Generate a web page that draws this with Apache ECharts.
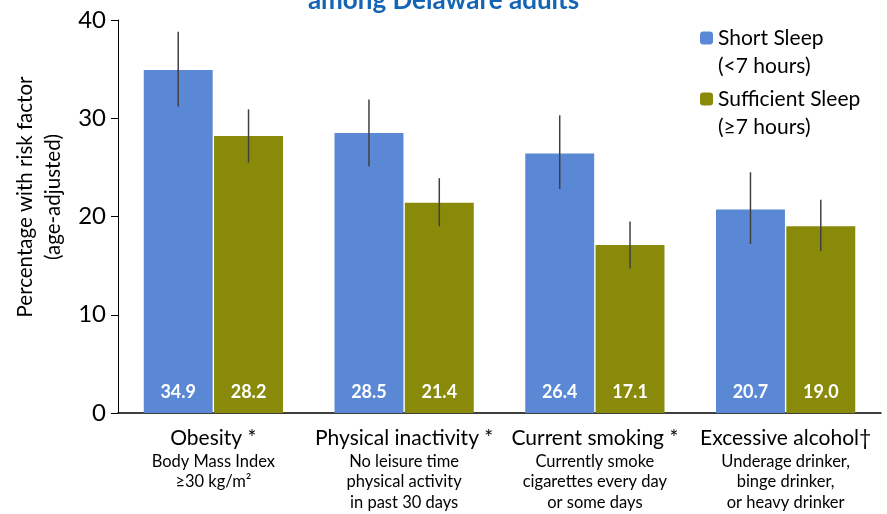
<!DOCTYPE html>
<html>
<head>
<meta charset="utf-8">
<script src="https://cdn.jsdelivr.net/npm/echarts@6/dist/echarts.min.js"></script>
<style>html,body{margin:0;padding:0;background:#fff}#c{width:887px;height:514px}</style>
</head>
<body>
<div id="c"></div>
<script>
var categories = ['Obesity *', 'Physical inactivity *', 'Current smoking *', 'Excessive alcohol\u2020'];
var subLabels = [
  ['Body Mass Index', '\u226530 kg/m\u00b2'],
  ['No leisure time', 'physical activity', 'in past 30 days'],
  ['Currently smoke', 'cigarettes every day', 'or some days'],
  ['Underage drinker,', 'binge drinker,', 'or heavy drinker']
];
var shortSleep = [34.9, 28.5, 26.4, 20.7];
var sufficientSleep = [28.2, 21.4, 17.1, 19.0];
var shortLow = [31.2, 25.1, 22.8, 17.2];
var shortHigh = [38.8, 31.9, 30.3, 24.5];
var sufficientLow = [25.5, 19.0, 14.7, 16.5];
var sufficientHigh = [30.9, 23.9, 19.5, 21.7];
var yTicks = [0, 10, 20, 30, 40];

var FONT = 'Lato';
var CAT_GAP = 0.27, BAR_GAP = 0.02;

function errData(lo, hi) {
  return lo.map(function (v, i) { return [i, v, hi[i]]; });
}
function makeErr(side) {
  return function (params, api) {
    var x = api.value(0);
    var lo = api.coord([x, api.value(1)]);
    var hi = api.coord([x, api.value(2)]);
    var band = api.size([1, 0])[0];
    var w = band * (1 - CAT_GAP) / (2 + BAR_GAP);
    var off = side * w * (1 + BAR_GAP) / 2;
    return {
      type: 'line',
      shape: { x1: lo[0] + off, y1: lo[1], x2: hi[0] + off, y2: hi[1] },
      style: { stroke: '#404040', lineWidth: 1.5 }
    };
  };
}

var chart = echarts.init(document.getElementById('c'));
var labelStyle = {
  show: true, position: 'insideBottom', distance: 12,
  color: '#fff', fontWeight: 'bold', fontSize: 18, fontFamily: FONT,
  formatter: function (p) { return p.value.toFixed(1); }
};
chart.setOption({
  animation: false,
  textStyle: { fontFamily: FONT },
  title: {
    text: 'among Delaware adults',
    left: 'center', top: -17,
    textStyle: { color: '#1565B5', fontSize: 26, fontWeight: 'bold', fontFamily: FONT }
  },
  legend: {
    orient: 'vertical', left: 700, top: -4, padding: 0,
    itemWidth: 13, itemHeight: 13, itemGap: -23,
    data: ['Short Sleep', 'Sufficient Sleep'],
    formatter: function (n) {
      return n === 'Short Sleep' ? '\nShort Sleep\n(<7 hours)' : '\nSufficient Sleep\n(\u22657 hours)';
    },
    textStyle: { fontSize: 21, color: '#000', lineHeight: 28, fontFamily: FONT }
  },
  grid: { left: 118, right: 6, top: 20, bottom: 101, containLabel: false },
  xAxis: {
    type: 'category', data: categories,
    axisLine: { lineStyle: { color: '#000', width: 1.5 } },
    axisTick: { show: false },
    axisLabel: {
      margin: 12, interval: 0,
      formatter: function (v, i) {
        return '{m|' + v + '}\n' + subLabels[i].map(function (s) { return '{s|' + s + '}'; }).join('\n');
      },
      rich: {
        m: { fontSize: 21, color: '#000', lineHeight: 26, fontFamily: FONT },
        s: { fontSize: 16.5, color: '#000', lineHeight: 20.5, fontFamily: FONT }
      }
    }
  },
  yAxis: {
    type: 'value', min: yTicks[0], max: yTicks[yTicks.length - 1], interval: 10,
    name: 'Percentage with risk factor\n(age-adjusted)',
    nameLocation: 'middle', nameGap: 51, nameRotate: 90,
    nameTextStyle: { fontSize: 20.5, color: '#000', lineHeight: 27.5, padding: [0, 0, 0, 39], fontFamily: FONT },
    axisLine: { show: true, lineStyle: { color: '#000', width: 1 } },
    axisTick: { show: true, length: 7, lineStyle: { color: '#000' } },
    axisLabel: { fontSize: 24, color: '#000', margin: 12, fontFamily: FONT },
    splitLine: { show: false }
  },
  series: [
    { name: 'Short Sleep', type: 'bar', data: shortSleep, itemStyle: { color: '#5B88D5' },
      barCategoryGap: (CAT_GAP * 100) + '%', barGap: (BAR_GAP * 100) + '%', label: labelStyle },
    { name: 'Sufficient Sleep', type: 'bar', data: sufficientSleep, itemStyle: { color: '#8A8A0A' },
      label: labelStyle },
    { name: 'errShort', type: 'custom', renderItem: makeErr(-1), data: errData(shortLow, shortHigh), z: 10,
      encode: { x: 0, y: [1, 2] } },
    { name: 'errSuff', type: 'custom', renderItem: makeErr(1), data: errData(sufficientLow, sufficientHigh), z: 10,
      encode: { x: 0, y: [1, 2] } }
  ]
});
</script>
</body>
</html>
